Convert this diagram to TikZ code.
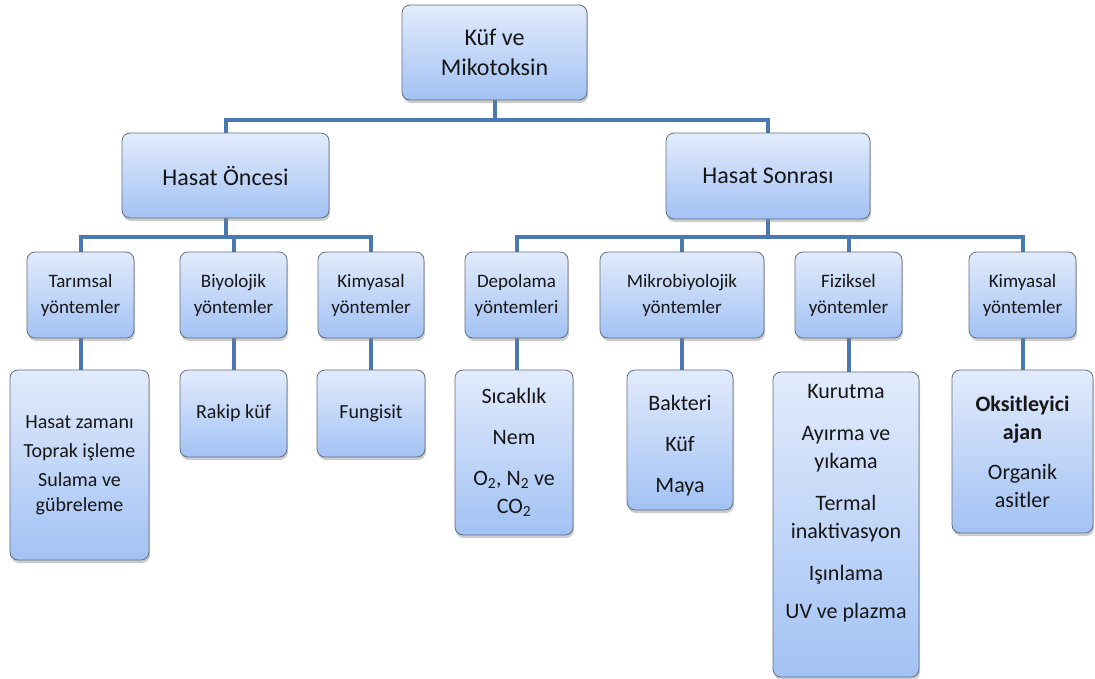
\documentclass[tikz,border=0pt]{standalone}
\usepackage{fontspec}
\setmainfont{Carlito}
\usetikzlibrary{shadows,backgrounds}
\definecolor{boxtop}{RGB}{226,235,252}
\definecolor{boxbot}{RGB}{162,194,244}
\definecolor{boxline}{RGB}{100,110,128}
\definecolor{conncol}{RGB}{74,120,176}
\definecolor{txtcol}{RGB}{22,22,22}
\tikzset{
  boxnode/.style={draw=boxline, line width=0.8pt, rounded corners=8pt,
    top color=boxtop, bottom color=boxbot,
    drop shadow={opacity=0.4, shadow xshift=1pt, shadow yshift=-3pt},
    align=center, text=txtcol, inner sep=2pt},
  topfont/.style={font=\fontsize{24}{30}\selectfont},
  midfont/.style={font=\fontsize{19}{26}\selectfont},
  leaffont/.style={font=\fontsize{22}{28}\selectfont},
  smallleaf/.style={font=\fontsize{20}{25}\selectfont},
  conn/.style={draw=conncol, line width=4pt},
  plaintext/.style={align=center, text=txtcol, inner sep=0pt}
}
\begin{document}
\begin{tikzpicture}[x=1pt,y=-1pt]
\useasboundingbox (0,0) rectangle (1095,678);

% level 0
\node[boxnode, topfont, minimum width=185pt, minimum height=95pt] (root) at (494.5,52.5) {Küf ve\\Mikotoksin};

% level 1
\node[boxnode, topfont, minimum width=207pt, minimum height=85pt] (ho) at (225.5,175.5) {Hasat Öncesi};
\node[boxnode, topfont, minimum width=204pt, minimum height=86pt] (hs) at (768,176) {Hasat Sonrası};

% level 2
\node[boxnode, midfont, minimum width=107pt, minimum height=86pt] (tar) at (80.5,295) {Tarımsal\\yöntemler};
\node[boxnode, midfont, minimum width=107pt, minimum height=86pt] (biy) at (233.5,295) {Biyolojik\\yöntemler};
\node[boxnode, midfont, minimum width=106pt, minimum height=86pt] (kim1) at (371,295) {Kimyasal\\yöntemler};
\node[boxnode, midfont, minimum width=103pt, minimum height=86pt] (dep) at (516.5,295) {Depolama\\yöntemleri};
\node[boxnode, midfont, minimum width=164pt, minimum height=86pt] (mik) at (682,295) {Mikrobiyolojik\\yöntemler};
\node[boxnode, midfont, minimum width=107pt, minimum height=86pt] (fiz) at (848.5,295) {Fiziksel\\yöntemler};
\node[boxnode, midfont, minimum width=107pt, minimum height=86pt] (kim2) at (1022.5,295) {Kimyasal\\yöntemler};

% level 3
\node[boxnode, smallleaf, minimum width=139pt, minimum height=190pt] (tar3) at (79.5,465) {Hasat zamanı\\[4pt]Toprak işleme\\[4pt]Sulama ve\\gübreleme};
\node[boxnode, smallleaf, minimum width=107pt, minimum height=87pt] (biy3) at (233.5,413.5) {Rakip küf};
\node[boxnode, smallleaf, minimum width=108pt, minimum height=87pt] (kim13) at (371,413.5) {Fungisit};
\node[boxnode, leaffont, minimum width=118pt, minimum height=165pt] (dep3) at (514,452.5) {Sıcaklık\\[13pt]Nem\\[13pt]O\textsubscript{2}, N\textsubscript{2} ve\\CO\textsubscript{2}};
\node[boxnode, leaffont, minimum width=106pt, minimum height=140pt] (mik3) at (680,440) {\rule{0pt}{26pt}Bakteri\\[13pt]Küf\\[13pt]Maya};
\node[boxnode, minimum width=146pt, minimum height=305pt] (fiz3) at (846,524.5) {};
\node[plaintext, leaffont, anchor=north] (fiz3t) at (846,384) {Kurutma\\[14pt]Ayırma ve\\yıkama\\[14pt]Termal\\inaktivasyon\\[14pt]Işınlama\\[10pt]UV ve plazma};
\node[boxnode, leaffont, minimum width=141pt, minimum height=163pt] (kim23) at (1022.5,451.5) {\textbf{Oksitleyici}\\\textbf{ajan}\\[12pt]Organik\\asitler};

% connectors
\begin{pgfonlayer}{background}
\draw[conn] (root.south) -- ++(0,20) -| (ho.north);
\draw[conn] (root.south) -- ++(0,20) -| (hs.north);
\draw[conn] (ho.south) -- ++(0,19) -| (tar.north);
\draw[conn] (ho.south) -- ++(0,19) -| (biy.north);
\draw[conn] (ho.south) -- ++(0,19) -| (kim1.north);
\draw[conn] (hs.south) -- ++(0,18) -| (dep.north);
\draw[conn] (hs.south) -- ++(0,18) -| (mik.north);
\draw[conn] (hs.south) -- ++(0,18) -| (fiz.north);
\draw[conn] (hs.south) -- ++(0,18) -| (kim2.north);
\draw[conn] (tar.south) -- (tar.south |- tar3.north);
\draw[conn] (biy.south) -- (biy3.north);
\draw[conn] (kim1.south) -- (kim13.north);
\draw[conn] (dep.south) -- (dep.south |- dep3.north);
\draw[conn] (mik.south) -- (mik.south |- mik3.north);
\draw[conn] (fiz.south) -- (fiz.south |- fiz3.north);
\draw[conn] (kim2.south) -- (kim23.north);
\end{pgfonlayer}
\end{tikzpicture}
\end{document}
